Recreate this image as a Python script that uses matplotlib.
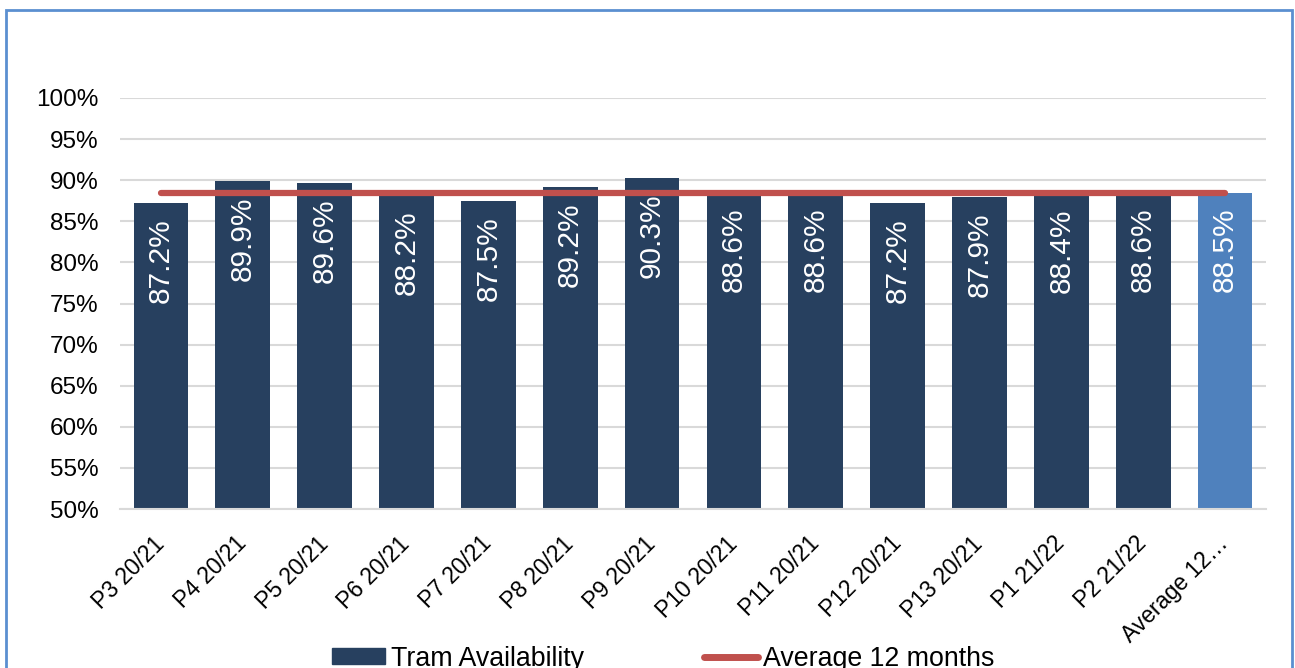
import matplotlib.pyplot as plt
import matplotlib.ticker as mtick
from matplotlib.patches import Rectangle
from matplotlib.lines import Line2D

plt.rcParams['font.family'] = ['Liberation Sans', 'DejaVu Sans']

categories = ["P3 20/21", "P4 20/21", "P5 20/21", "P6 20/21", "P7 20/21",
              "P8 20/21", "P9 20/21", "P10 20/21", "P11 20/21", "P12 20/21",
              "P13 20/21", "P1 21/22", "P2 21/22", "Average 12\u2026"]
availability = [87.2, 89.9, 89.6, 88.2, 87.5, 89.2, 90.3, 88.6, 88.6, 87.2,
                87.9, 88.4, 88.6, 88.5]
average_12 = [88.5] * 14

dark = '#27405F'
light = '#4F81BD'
red = '#C0504D'

fig = plt.figure(figsize=(12.95, 6.68), dpi=100)
ax = fig.add_axes([120 / 1295, 1 - 509 / 668, 1146 / 1295, 411 / 668])

x = list(range(len(categories)))
colors = [dark] * (len(categories) - 1) + [light]
vals = [v / 100 for v in availability]
ax.bar(x, vals, width=0.67, color=colors, zorder=2)
ax.plot(x, [v / 100 for v in average_12], color=red, lw=4.5,
        solid_capstyle='round', zorder=3)

for xi, v in zip(x, availability):
    ax.annotate(f"{v:.1f}%", (xi, v / 100), xytext=(0, -11),
                textcoords='offset points', rotation=90, ha='center',
                va='top', color='white', fontsize=21.5, zorder=4)

ax.set_xlim(-0.5, len(categories) - 0.5)
ax.set_ylim(0.5, 1.0)
ax.yaxis.set_major_locator(mtick.MultipleLocator(0.05))
ax.yaxis.set_major_formatter(mtick.PercentFormatter(1.0, decimals=0))
ax.grid(axis='y', color='#D9D9D9', lw=1.5, zorder=0)
ax.set_axisbelow(True)
for s in ['top', 'right', 'left']:
    ax.spines[s].set_visible(False)
ax.spines['bottom'].set_color('#D9D9D9')
ax.spines['bottom'].set_linewidth(1.5)
ax.tick_params(axis='both', length=0, colors='black')
ax.tick_params(axis='y', pad=15.5, labelsize=17.5)
ax.tick_params(axis='x', pad=22.5, labelsize=16.5)
ax.set_xticks(x)
ax.set_xticklabels(categories, rotation=45, ha='right', va='center',
                   rotation_mode='anchor')

handles = [Rectangle((0, 0), 1, 1, color=dark),
           Line2D([0], [0], color=red, lw=5, solid_capstyle='round')]
fig.legend(handles, ["Tram Availability", "Average 12 months"],
           loc='center', bbox_to_anchor=(0.512, 0.014), ncol=2,
           frameon=False, fontsize=19.3, handlelength=2.0, handleheight=0.5,
           handletextpad=0.19, columnspacing=4.5, borderpad=0)

fig.add_artist(Rectangle((6 / 1295, -0.05), 1286 / 1295, 1.05 - 10 / 668,
                         transform=fig.transFigure, fill=False,
                         edgecolor='#5B8FD0', lw=2))

fig.savefig("out.png", dpi=100)
